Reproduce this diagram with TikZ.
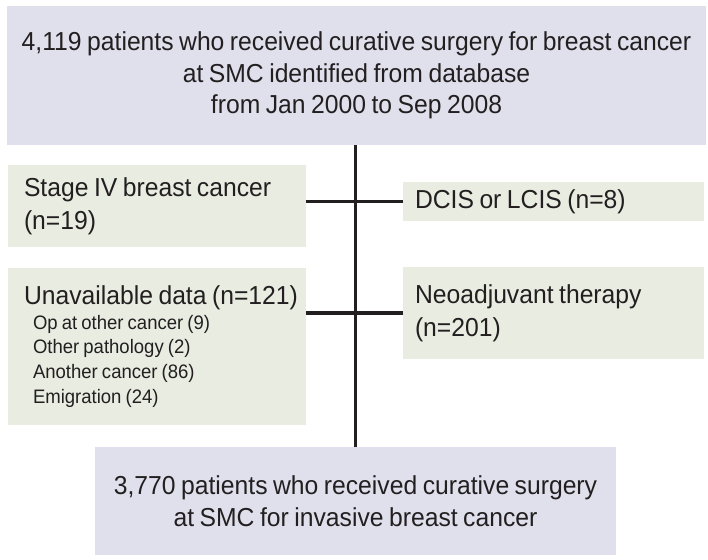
\documentclass[tikz,border=0pt]{standalone}
\usepackage{fontspec}
\setmainfont{Liberation Sans}[FakeStretch=0.95, WordSpace=0.8]
\definecolor{mainbox}{HTML}{DFE0EC}
\definecolor{sidebox}{HTML}{E8ECE1}
\definecolor{ink}{HTML}{231F20}
\newcommand{\natsp}{\spaceskip=0pt\xspaceskip=0pt\relax}
\begin{document}
\begin{tikzpicture}[x=1pt,y=-1pt,
  every node/.style={text=ink, inner sep=0pt, outer sep=0pt},
  mainb/.style={fill=mainbox, align=center, font=\fontsize{26}{31.5}\selectfont},
  leftb/.style={fill=sidebox, align=left, minimum width=298pt, text width=266pt, font=\fontsize{26}{33}\selectfont},
  rightb/.style={fill=sidebox, align=left, minimum width=301pt, text width=277pt, font=\fontsize{26}{33}\selectfont},
  conn/.style={draw=ink, line width=3.5pt}]
\useasboundingbox (0,0) rectangle (708,559);
\fill[white] (0,0) rectangle (708,559);
\node[mainb, minimum width=699pt, minimum height=139pt] (top) at (356.5,75.5)
  {\natsp 4,119 patients who received curative surgery for breast cancer\\at SMC identified from database\\from Jan 2000 to Sep 2008};
\node[leftb, minimum height=82pt] (stage) at (157,206)
  {\natsp Stage IV breast cancer\\(n=19)};
\node[rightb, minimum height=39pt] (dcis) at (553.5,201.5)
  {\natsp DCIS or LCIS (n=8)};
\node[leftb, minimum height=157pt] (unav) at (157,346.5)
  {\natsp \makebox[266pt][l]{Unavailable data (n=121)}\\[0pt]
   {\fontsize{19.5}{24.7}\selectfont\natsp\hspace*{9pt}Op at other cancer (9)\\
   \hspace*{9pt}Other pathology (2)\\
   \hspace*{9pt}Another cancer (86)\\
   \hspace*{9pt}Emigration (24)\par}};
\node[rightb, minimum height=92pt] (neo) at (553.5,313)
  {\natsp Neoadjuvant therapy\\(n=201)};
\node[mainb, minimum width=521pt, minimum height=108pt] (bottom) at (355.5,501)
  {\natsp 3,770 patients who received curative surgery\\at SMC for invasive breast cancer};
\draw[conn] (bottom.north) -- (bottom.north |- top.south);
\draw[conn] (dcis.west) -- (dcis.west -| stage.east);
\draw[conn] (neo.west) -- (neo.west -| unav.east);
\end{tikzpicture}
\end{document}
